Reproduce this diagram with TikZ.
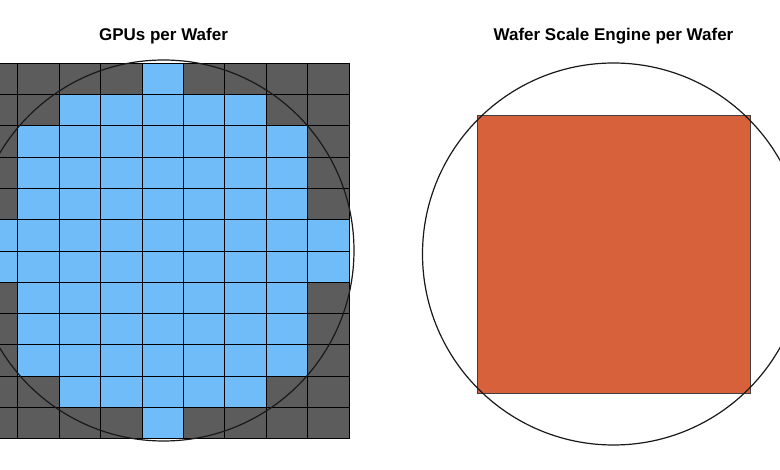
\documentclass[tikz,border=0pt]{standalone}
\usepackage{fontspec}
\setmainfont{Liberation Sans}
\definecolor{cellgray}{HTML}{5C5C5C}
\definecolor{cellblue}{HTML}{6FBCF8}
\definecolor{wseorange}{HTML}{D6613A}
\begin{document}
\begin{tikzpicture}[x=1pt,y=-1pt,
  title/.style={font=\fontsize{17}{20}\selectfont\bfseries, anchor=center},
  gridline/.style={draw=black, line width=0.9pt},
  wafer/.style={draw=black!90, line width=1.2pt},
  wse/.style={fill=wseorange, draw=black!75, line width=0.9pt}]
\useasboundingbox (0,0) rectangle (780,470);
\clip (0,0) rectangle (780,470);
\def\xo{-23.6}\def\cw{41.4}\def\yo{63.3}\def\ch{31.28}
% titles
\node[title] (t1) at (163.5,36) {GPUs per Wafer};
\node[title] (t2) at (613.5,36) {Wafer Scale Engine per Wafer};
% left grid
\fill[cellgray] (\xo,\yo) rectangle ({\xo+9*\cw},{\yo+12*\ch});
\foreach \r/\lo/\hi in {0/4/4,1/2/6,2/1/7,3/1/7,4/1/7,5/0/8,6/0/8,7/1/7,8/1/7,9/1/7,10/2/6,11/4/4}{
  \fill[cellblue] ({\xo+\lo*\cw},{\yo+\r*\ch}) rectangle ({\xo+(\hi+1)*\cw},{\yo+(\r+1)*\ch});
}
\foreach \i in {0,...,9}{
  \draw[gridline] ({\xo+\i*\cw},\yo) -- ({\xo+\i*\cw},{\yo+12*\ch});
}
\foreach \j in {0,...,12}{
  \draw[gridline] (\xo,{\yo+\j*\ch}) -- ({\xo+9*\cw},{\yo+\j*\ch});
}
\draw[wafer] (163.5,250.5) circle[radius=190.5];
% right wafer
\draw[wse] (477.3,115) rectangle (750,393.3);
\draw[wafer] (613.5,254) circle[radius=191];
\end{tikzpicture}
\end{document}
